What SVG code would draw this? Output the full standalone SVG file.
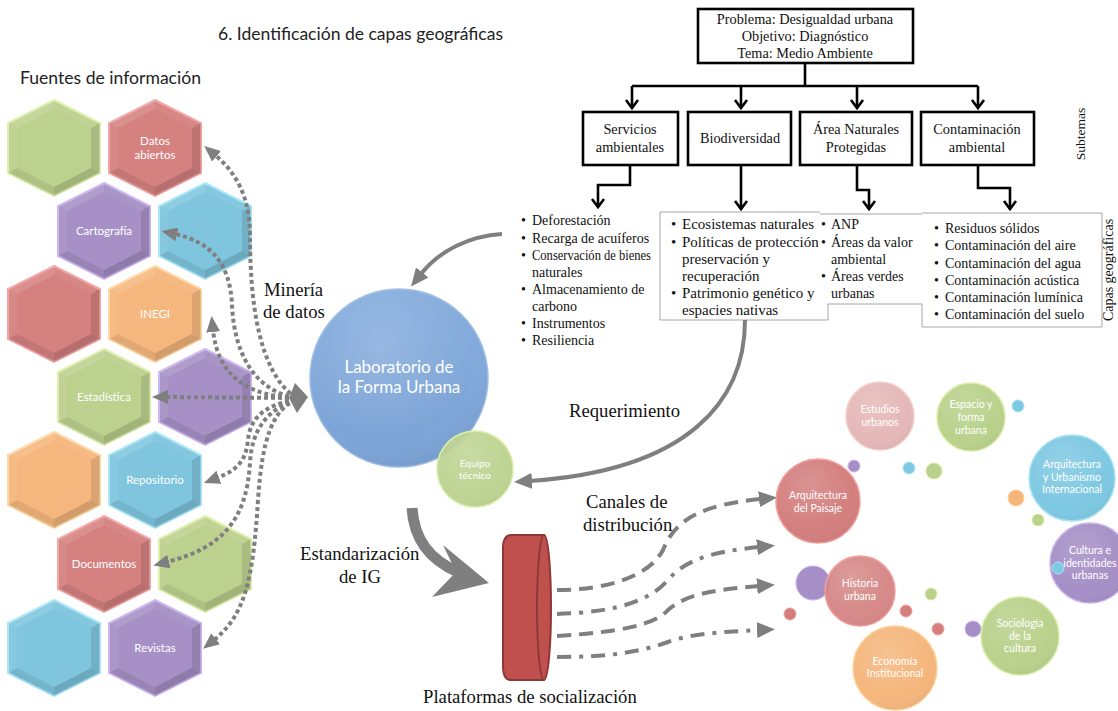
<svg xmlns="http://www.w3.org/2000/svg" xmlns:xlink="http://www.w3.org/1999/xlink" width="1118" height="711" viewBox="0 0 1118 711">
  <style>
    .serif{font-family:"Liberation Serif","Times New Roman",serif;fill:#111}
    .sans{font-family:Lato,"Open Sans","Liberation Sans",sans-serif}
    .wt{font-family:Lato,"Open Sans","Liberation Sans",sans-serif;fill:#fff}
    .box{fill:#fff;stroke:#000;stroke-width:2.6}
    .tree{fill:none;stroke:#000;stroke-width:2.6}
    .thin{fill:none;stroke:#a6a6a6;stroke-width:1}
    .dot{fill:none;stroke:#7f7f7f;stroke-width:4;stroke-dasharray:4 3}
    .gl{fill:none;stroke:#7f7f7f;stroke-width:4}
    .dash{fill:none;stroke:#7f7f7f;stroke-width:4;stroke-dasharray:14 8}
    .dd{fill:none;stroke:#7f7f7f;stroke-width:4;stroke-dasharray:14 8 4 8}
    .hg{fill:#bdd18f;stroke:#dcefa8;stroke-width:2}
    .hr{fill:#d48180;stroke:#f3a3a2;stroke-width:2}
    .hp{fill:#a690c5;stroke:#cbb5f0;stroke-width:2}
    .hb{fill:#7fc5de;stroke:#a6e6fa;stroke-width:2}
    .ho{fill:#f5b77d;stroke:#ffd6a0;stroke-width:2}
  </style>
  <defs>
    <polygon id="hx" points="0,-48 46,-25 46,25 0,48 -46,25 -46,-25"/>
    <g id="bev">
      <polygon points="46,-25 46,25 37,20 37,-20" fill="#000" fill-opacity="0.10"/>
      <polygon points="46,25 0,48 0,39 37,20" fill="#000" fill-opacity="0.14"/>
      <polygon points="0,48 -46,25 -37,20 0,39" fill="#000" fill-opacity="0.08"/>
      <polygon points="-46,25 -46,-25 -37,-20 -37,20" fill="#fff" fill-opacity="0.06"/>
      <polygon points="-46,-25 0,-48 0,-39 -37,-20" fill="#fff" fill-opacity="0.12"/>
      <polygon points="0,-48 46,-25 37,-20 0,-39" fill="#fff" fill-opacity="0.05"/>
    </g>
    <radialGradient id="shine" cx="0.4" cy="0.32" r="0.75">
      <stop offset="0" stop-color="#fff" stop-opacity="0.16"/>
      <stop offset="0.7" stop-color="#fff" stop-opacity="0"/>
      <stop offset="1" stop-color="#000" stop-opacity="0.07"/>
    </radialGradient>
    <linearGradient id="labGrad" x1="0" y1="0" x2="0" y2="1">
      <stop offset="0" stop-color="#86addd"/>
      <stop offset="1" stop-color="#7aa2d5"/>
    </linearGradient>
    <marker id="dotHead" viewBox="0 0 16 14" markerWidth="16" markerHeight="14" refX="2" refY="7" orient="auto" markerUnits="userSpaceOnUse">
      <path d="M0,0 L16,7 L0,14 z" fill="#7f7f7f"/>
    </marker>
    <marker id="grayHead" viewBox="0 0 18 16" markerWidth="18" markerHeight="16" refX="2" refY="8" orient="auto" markerUnits="userSpaceOnUse">
      <path d="M0,0 L18,8 L0,16 z" fill="#7f7f7f"/>
    </marker>
    <clipPath id="clipBio">
      <rect x="600" y="200" width="220" height="130"/>
    </clipPath>
  </defs>

  <rect width="1118" height="711" fill="#fff"/>

  <!-- headings -->
  <text class="sans" x="218" y="40" font-size="17" fill="#222" textLength="285" lengthAdjust="spacingAndGlyphs">6. Identificación de capas geográficas</text>
  <text class="sans" x="20" y="84" font-size="18" fill="#222" textLength="181" lengthAdjust="spacingAndGlyphs">Fuentes de información</text>

  <!-- information sources: hexagon honeycomb -->
  <g id="hex-1a" transform="translate(54,148)"><use href="#hx" class="hg"/><use href="#bev"/></g>
  <g id="hex-datos" transform="translate(155,148)"><use href="#hx" class="hr"/><use href="#bev"/>
    <text class="wt" x="0" y="-3" font-size="11.5" text-anchor="middle">Datos</text>
    <text class="wt" x="0" y="11" font-size="11.5" text-anchor="middle">abiertos</text></g>
  <g id="hex-cartografia" transform="translate(104,231)"><use href="#hx" class="hp"/><use href="#bev"/>
    <text class="wt" x="0" y="4" font-size="11.5" text-anchor="middle">Cartografía</text></g>
  <g id="hex-2b" transform="translate(205,231)"><use href="#hx" class="hb"/><use href="#bev"/></g>
  <g id="hex-3a" transform="translate(54,314)"><use href="#hx" class="hr"/><use href="#bev"/></g>
  <g id="hex-inegi" transform="translate(155,314)"><use href="#hx" class="ho"/><use href="#bev"/>
    <text class="wt" x="0" y="4" font-size="11.5" text-anchor="middle">INEGI</text></g>
  <g id="hex-estadistica" transform="translate(104,397)"><use href="#hx" class="hg"/><use href="#bev"/>
    <text class="wt" x="0" y="4" font-size="11.5" text-anchor="middle">Estadística</text></g>
  <g id="hex-4b" transform="translate(205,397)"><use href="#hx" class="hp"/><use href="#bev"/></g>
  <g id="hex-5a" transform="translate(54,480)"><use href="#hx" class="ho"/><use href="#bev"/></g>
  <g id="hex-repositorio" transform="translate(155,480)"><use href="#hx" class="hb"/><use href="#bev"/>
    <text class="wt" x="0" y="4" font-size="11.5" text-anchor="middle">Repositorio</text></g>
  <g id="hex-documentos" transform="translate(104,564)"><use href="#hx" class="hr"/><use href="#bev"/>
    <text class="wt" x="0" y="4" font-size="11.5" text-anchor="middle">Documentos</text></g>
  <g id="hex-6b" transform="translate(205,564)"><use href="#hx" class="hg"/><use href="#bev"/></g>
  <g id="hex-7a" transform="translate(54,648)"><use href="#hx" class="hb"/><use href="#bev"/></g>
  <g id="hex-revistas" transform="translate(155,648)"><use href="#hx" class="hp"/><use href="#bev"/>
    <text class="wt" x="0" y="4" font-size="11.5" text-anchor="middle">Revistas</text></g>

  <!-- problem tree -->
  <g id="problema">
    <rect class="box" x="698" y="9" width="215" height="54"/>
    <text class="serif" x="805" y="24" font-size="14.3" text-anchor="middle">Problema: Desigualdad urbana</text>
    <text class="serif" x="805" y="41" font-size="14.3" text-anchor="middle">Objetivo: Diagnóstico</text>
    <text class="serif" x="805" y="58" font-size="14.3" text-anchor="middle">Tema: Medio Ambiente</text>
  </g>
  <g id="sub-servicios">
    <rect class="box" x="583" y="112" width="95" height="53"/>
    <text class="serif" x="630" y="134" font-size="14.3" text-anchor="middle">Servicios</text>
    <text class="serif" x="630" y="152" font-size="14.3" text-anchor="middle">ambientales</text>
  </g>
  <g id="sub-biodiversidad">
    <rect class="box" x="688" y="112" width="103" height="53"/>
    <text class="serif" x="740" y="143" font-size="14.3" text-anchor="middle">Biodiversidad</text>
  </g>
  <g id="sub-anp">
    <rect class="box" x="800" y="112" width="112" height="53"/>
    <text class="serif" x="856" y="134" font-size="14.3" text-anchor="middle">Área Naturales</text>
    <text class="serif" x="856" y="152" font-size="14.3" text-anchor="middle">Protegidas</text>
  </g>
  <g id="sub-contaminacion">
    <rect class="box" x="921" y="112" width="113" height="53"/>
    <text class="serif" x="977" y="134" font-size="14.3" text-anchor="middle">Contaminación</text>
    <text class="serif" x="977" y="152" font-size="14.3" text-anchor="middle">ambiental</text>
  </g>
  <text class="serif" transform="translate(1085,134) rotate(-90)" font-size="13.5" text-anchor="middle">Subtemas</text>

  <!-- geographic layer lists -->
  <g id="capas-biodiversidad">
    <rect x="660" y="212" width="168" height="108" fill="#fff"/>
    <g class="serif" font-size="15" clip-path="url(#clipBio)">
      <text x="671" y="229">• <tspan x="682">Ecosistemas naturales</tspan></text>
      <text x="671" y="247">• <tspan x="682">Políticas de protección</tspan></text>
      <text x="682" y="264">preservación y</text>
      <text x="682" y="281">recuperación</text>
      <text x="671" y="298">• <tspan x="682">Patrimonio  genético y</tspan></text>
      <text x="682" y="315">espacies nativas</text>
    </g>
    <path class="thin" d="M820,212 H660 V320 H828 V304"/>
  </g>
  <g id="capas-servicios" class="serif" font-size="14">
    <text x="521" y="225">• <tspan x="532">Deforestación</tspan></text>
    <text x="521" y="243">• <tspan x="532">Recarga de acuíferos</tspan></text>
    <text x="521" y="260">• <tspan x="532" textLength="119" lengthAdjust="spacingAndGlyphs">Conservación de bienes</tspan></text>
    <text x="532" y="277">naturales</text>
    <text x="521" y="294">• <tspan x="532">Almacenamiento  de</tspan></text>
    <text x="532" y="311">carbono</text>
    <text x="521" y="328">• <tspan x="532">Instrumentos</tspan></text>
    <text x="521" y="345">• <tspan x="532">Resiliencia</tspan></text>
  </g>
  <g id="capas-anp">
    <rect x="820" y="214" width="102" height="90" fill="#fff"/>
    <g class="serif" font-size="14">
      <text x="821" y="229">• <tspan x="831">ANP</tspan></text>
      <text x="821" y="247">• <tspan x="831">Áreas da valor</tspan></text>
      <text x="831" y="264">ambiental</text>
      <text x="821" y="281">• <tspan x="831">Áreas verdes</tspan></text>
      <text x="831" y="298">urbanas</text>
    </g>
    <path class="thin" d="M820,214 H922 M828,304 H922"/>
  </g>
  <g id="capas-contaminacion">
    <rect x="922" y="213" width="180" height="114" fill="#fff"/>
    <g class="serif" font-size="14">
      <text x="934" y="233">• <tspan x="945">Residuos sólidos</tspan></text>
      <text x="934" y="250">• <tspan x="945">Contaminación  del aire</tspan></text>
      <text x="934" y="268">• <tspan x="945">Contaminación  del agua</tspan></text>
      <text x="934" y="285">• <tspan x="945">Contaminación  acústica</tspan></text>
      <text x="934" y="302">• <tspan x="945">Contaminación  lumínica</tspan></text>
      <text x="934" y="319">• <tspan x="945">Contaminación  del suelo</tspan></text>
    </g>
    <path class="thin" d="M922,213 H1102 V327 H922 V304"/>
  </g>
  <text class="serif" transform="translate(1113,270) rotate(-90)" font-size="14" text-anchor="middle">Capas geográficas</text>

  <!-- laboratory and technical team -->
  <g id="laboratorio">
    <circle cx="399" cy="378" r="89" fill="url(#labGrad)" stroke="#9dbde6" stroke-width="1.5"/>
    <circle cx="399" cy="378" r="89" fill="url(#shine)"/>
    <text class="wt" x="399" y="373" font-size="17" text-anchor="middle">Laboratorio de</text>
    <text class="wt" x="399" y="393" font-size="17" text-anchor="middle">la Forma Urbana</text>
  </g>
  <g id="equipo">
    <circle cx="475" cy="469" r="38" fill="#b9d18b" fill-opacity="0.93" stroke="#d8eea6" stroke-width="1.5"/>
    <circle cx="475" cy="469" r="38" fill="url(#shine)"/>
    <text class="wt" x="475" y="467" font-size="10" text-anchor="middle">Equipo</text>
    <text class="wt" x="475" y="479" font-size="10" text-anchor="middle">técnico</text>
  </g>

  <!-- socialization platform -->
  <g id="plataformas">
    <path d="M544,535 H511 Q503,535 503,549 V666 Q503,680 511,680 H544 Z" fill="#c0504d" stroke="#8c3836" stroke-width="2"/>
    <ellipse cx="544" cy="607.5" rx="7" ry="72.5" fill="#c0504d" stroke="#8c3836" stroke-width="2"/>
  </g>

  <!-- disciplines -->
  <g id="disciplinas">
    <g id="estudios-urbanos">
      <circle cx="880" cy="416" r="34" fill="#e5b8b8" stroke="#f4cfcf" stroke-width="1.5"/>
      <circle cx="880" cy="416" r="34" fill="url(#shine)"/>
      <text class="wt" x="880" y="413" font-size="10.5" text-anchor="middle">Estudios</text>
      <text class="wt" x="880" y="426" font-size="10.5" text-anchor="middle">urbanos</text>
    </g>
    <g id="espacio-forma">
      <circle cx="971" cy="417" r="34" fill="#b9d18b" stroke="#d8eea6" stroke-width="1.5"/>
      <circle cx="971" cy="417" r="34" fill="url(#shine)"/>
      <text class="wt" x="971" y="408" font-size="10.5" text-anchor="middle">Espacio y</text>
      <text class="wt" x="971" y="421" font-size="10.5" text-anchor="middle">forma</text>
      <text class="wt" x="971" y="434" font-size="10.5" text-anchor="middle">urbana</text>
    </g>
    <g id="arq-paisaje">
      <circle cx="818" cy="501" r="42" fill="#d37f7e" stroke="#f29e9d" stroke-width="1.5"/>
      <circle cx="818" cy="501" r="42" fill="url(#shine)"/>
      <text class="wt" x="818" y="499" font-size="10.5" text-anchor="middle">Arquitectura</text>
      <text class="wt" x="818" y="512" font-size="10.5" text-anchor="middle">del Paisaje</text>
    </g>
    <g id="arq-internacional">
      <circle cx="1072" cy="478" r="43" fill="#7ec8e2" stroke="#a8e5f8" stroke-width="1.5"/>
      <circle cx="1072" cy="478" r="43" fill="url(#shine)"/>
      <text class="wt" x="1072" y="468" font-size="10.5" text-anchor="middle">Arquitectura</text>
      <text class="wt" x="1072" y="481" font-size="10.5" text-anchor="middle">y Urbanismo</text>
      <text class="wt" x="1072" y="493" font-size="10.5" text-anchor="middle">Internacional</text>
    </g>
    <g id="cultura-identidades">
      <circle cx="1090" cy="563" r="40" fill="#a58fc6" stroke="#c9b4ec" stroke-width="1.5"/>
      <circle cx="1090" cy="563" r="40" fill="url(#shine)"/>
      <text class="wt" x="1090" y="554" font-size="10.5" text-anchor="middle">Cultura e</text>
      <text class="wt" x="1090" y="567" font-size="10.5" text-anchor="middle">identidades</text>
      <text class="wt" x="1090" y="579" font-size="10.5" text-anchor="middle">urbanas</text>
    </g>
    <g id="historia-urbana">
      <circle cx="813" cy="583" r="17" fill="#a58fc6" stroke="#c9b4ec" stroke-width="1"/>
      <circle cx="860" cy="591" r="35" fill="#d37f7e" fill-opacity="0.92" stroke="#f29e9d" stroke-width="1.5"/>
      <circle cx="860" cy="591" r="35" fill="url(#shine)"/>
      <text class="wt" x="860" y="587" font-size="10.5" text-anchor="middle">Historia</text>
      <text class="wt" x="860" y="600" font-size="10.5" text-anchor="middle">urbana</text>
    </g>
    <g id="sociologia">
      <circle cx="1020" cy="636" r="39" fill="#b9d18b" stroke="#d8eea6" stroke-width="1.5"/>
      <circle cx="1020" cy="636" r="39" fill="url(#shine)"/>
      <text class="wt" x="1020" y="627" font-size="10.5" text-anchor="middle">Sociología</text>
      <text class="wt" x="1020" y="640" font-size="10.5" text-anchor="middle">de la</text>
      <text class="wt" x="1020" y="652" font-size="10.5" text-anchor="middle">cultura</text>
    </g>
    <g id="economia">
      <circle cx="895" cy="668" r="42" fill="#f5b67c" stroke="#ffd29c" stroke-width="1.5"/>
      <circle cx="895" cy="668" r="42" fill="url(#shine)"/>
      <text class="wt" x="895" y="665" font-size="10.5" text-anchor="middle">Economía</text>
      <text class="wt" x="895" y="677" font-size="10.5" text-anchor="middle">Institucional</text>
    </g>
    <!-- small satellite bubbles -->
    <g id="satelites" stroke-width="1">
      <circle cx="1018" cy="406" r="6" fill="#7ec8e2" stroke="#a8e5f8"/>
      <circle cx="854" cy="466" r="6" fill="#a58fc6" stroke="#c9b4ec"/>
      <circle cx="909" cy="468" r="6" fill="#7ec8e2" stroke="#a8e5f8"/>
      <circle cx="934" cy="471" r="8" fill="#b9d18b" stroke="#d8eea6"/>
      <circle cx="1016" cy="498" r="8" fill="#f5b67c" stroke="#ffd29c"/>
      <circle cx="1038" cy="520" r="6" fill="#b9d18b" stroke="#d8eea6"/>
      <circle cx="1058" cy="568" r="6" fill="#7ec8e2" stroke="#a8e5f8"/>
      <circle cx="790" cy="614" r="6" fill="#d37f7e" stroke="#f29e9d"/>
      <circle cx="931" cy="594" r="6" fill="#b9d18b" stroke="#d8eea6"/>
      <circle cx="906" cy="611" r="6" fill="#d37f7e" stroke="#f29e9d"/>
      <circle cx="938" cy="629" r="6" fill="#d37f7e" stroke="#f29e9d"/>
      <circle cx="973" cy="629" r="8" fill="#a58fc6" stroke="#c9b4ec"/>
    </g>
  </g>

  <!-- connectors -->
  <g id="connectors">
    <!-- tree -->
    <path class="tree" d="M805,63 V86 M632,86 H978 M632,86 V108 M741,86 V108 M857,86 V108 M978,86 V108"/>
    <path class="tree" d="M626,100 L632,108 L638,100 M735,100 L741,108 L747,100 M851,100 L857,108 L863,100 M972,100 L978,108 L984,100"/>
    <path class="tree" d="M630,165 V185 H598 V207 M741,165 V209 M857,165 V190 H869 V209 M978,165 V188 H1010 V209"/>
    <path class="tree" d="M592,199 L598,207 L604,199 M735,201 L741,209 L747,201 M863,201 L869,209 L875,201 M1004,201 L1010,209 L1016,201"/>

    <!-- data mining (dotted) -->
    <path class="dot" marker-end="url(#dotHead)" d="M296,398 C258,372 250,300 250,235 C250,200 238,174 215,155"/>
    <path class="dot" marker-end="url(#dotHead)" d="M296,398 C252,390 234,350 232,305 C230,262 210,242 175,234"/>
    <path class="dot" marker-end="url(#dotHead)" d="M296,398 C250,396 218,378 213,330"/>
    <path class="dot" marker-end="url(#dotHead)" d="M296,398 L166,397"/>
    <path class="dot" marker-end="url(#dotHead)" d="M296,400 C262,405 250,420 248,440 C246,460 238,470 217,478"/>
    <path class="dot" marker-end="url(#dotHead)" d="M296,400 C265,410 252,432 250,462 C247,520 222,548 167,562"/>
    <path class="dot" marker-end="url(#dotHead)" d="M296,400 C272,410 262,440 258,500 C253,580 245,615 214,640"/>
    <polygon points="295,383 308,397 297,413 289,398" fill="#7f7f7f"/>

    <!-- feedback arrows -->
    <path class="gl" marker-end="url(#grayHead)" d="M502,234 C470,236 440,250 421,274"/>
    <path class="gl" marker-end="url(#grayHead)" d="M745,320 C745,400 690,470 530,481"/>

    <!-- standardization -->
    <path d="M412,508 C414,540 430,560 458,572" fill="none" stroke="#7f7f7f" stroke-width="11"/>
    <polygon points="443,545 489,583 432,597 456,572" fill="#7f7f7f"/>

    <!-- distribution channels -->
    <path class="dash" marker-end="url(#grayHead)" d="M557,590 C610,590 650,575 663,550 C675,520 700,505 761,499"/>
    <path class="dd" marker-end="url(#grayHead)" d="M557,614 C620,612 650,600 668,580 C685,560 710,552 759,547"/>
    <path class="dash" marker-end="url(#grayHead)" d="M557,636 C620,632 655,625 668,610 C685,595 710,590 759,586"/>
    <path class="dd" marker-end="url(#grayHead)" d="M557,657 C610,657 640,652 668,642 C690,634 720,632 759,630"/>
  </g>

  <!-- process labels -->
  <g id="labels" class="serif" font-size="18.7">
    <text x="264" y="296">Minería</text>
    <text x="263" y="318">de datos</text>
    <text x="569" y="417">Requerimiento</text>
    <text x="586" y="508">Canales de</text>
    <text x="583" y="531">distribución</text>
    <text x="300" y="560">Estandarización</text>
    <text x="339" y="583">de IG</text>
    <text x="423" y="703">Plataformas de socialización</text>
  </g>
</svg>
